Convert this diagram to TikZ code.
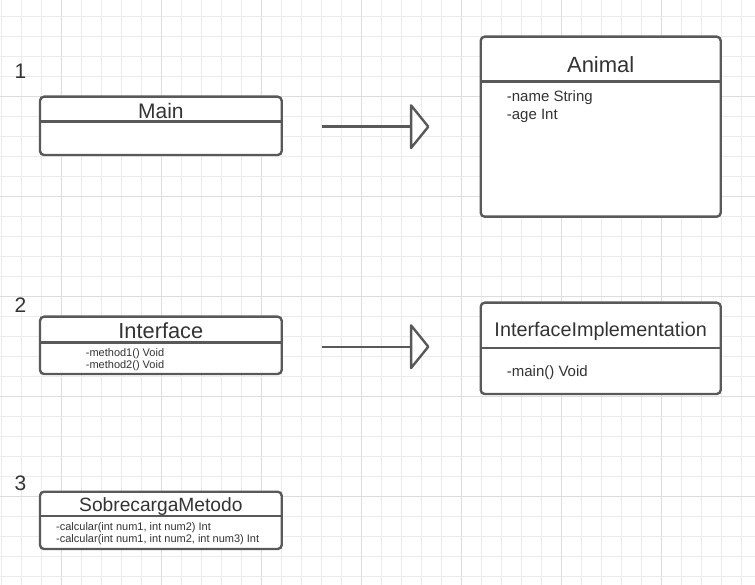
\documentclass[tikz,border=0pt]{standalone}
\usepackage{fontspec}
\setmainfont{Liberation Sans}
\usetikzlibrary{arrows.meta}

\definecolor{gridminor}{HTML}{EBEBEB}
\definecolor{gridmajor}{HTML}{DDDDDD}
\definecolor{umlline}{HTML}{595959}
\definecolor{umltext}{HTML}{333333}

\tikzstyle{classbox}=[draw=umlline, line width=2.4pt, fill=white, rounded corners=4pt, inner sep=0pt, outer sep=0pt]
\tikzstyle{divider}=[draw=umlline, line width=2.4pt]
\tikzstyle{cname}=[text=umltext, anchor=base, inner sep=0pt, font=\fontsize{21}{25}\selectfont]
\tikzstyle{member}=[text=umltext, anchor=base west, inner sep=0pt, font=\fontsize{15}{18}\selectfont]
\tikzstyle{smallmember}=[text=umltext, anchor=base west, inner sep=0pt, font=\fontsize{11}{13}\selectfont]
\tikzstyle{realize}=[draw=umlline, line width=2.4pt, -{Triangle[length=20pt, width=49pt, fill=white, round]}]

\begin{document}
\begin{tikzpicture}[x=1pt, y=-1pt]
    \useasboundingbox (0,0) rectangle (755,585);
    % background grid
    \foreach \k in {0,...,37} \draw[gridminor, line width=1pt] (1.7+20*\k,0) -- (1.7+20*\k,585);
    \foreach \k in {0,...,28} \draw[gridminor, line width=1pt] (0,16.5+20*\k) -- (755,16.5+20*\k);
    \foreach \k in {0,...,6} \draw[gridmajor, line width=1pt] (61.7+100*\k,0) -- (61.7+100*\k,585);
    \foreach \k in {0,...,4} \draw[gridmajor, line width=1pt] (0,96.5+100*\k) -- (755,96.5+100*\k);

    % numbers
    \node[cname, anchor=base west] (n1) at (14.5,79) {1};
    \node[cname, anchor=base west] (n2) at (14.5,312.7) {2};
    \node[cname, anchor=base west] (n3) at (14.5,490) {3};

    % 1
    \node[classbox, minimum width=241.7pt, minimum height=58.3pt] (main) at (160.85,125.85) {};
    \draw[divider] (main.west |- 0,121.7) -- (main.east |- 0,121.7);
    \node[cname] (mainname) at (160.85,118.3) {Main};

    \node[classbox, minimum width=240pt, minimum height=180pt] (animal) at (600.7,126.7) {};
    \draw[divider] (animal.west |- 0,81.7) -- (animal.east |- 0,81.7);
    \node[cname, font=\fontsize{22}{26}\selectfont] (animalname) at (600.7,72.3) {Animal};
    \node[member] (animalm1) at (506.7,101.7) {-name String};
    \node[member] (animalm2) at (506.7,120) {-age Int};

    \coordinate (a1s) at (321.7,126.7);
    \coordinate (a1e) at (429.5,126.7);
    \draw[realize] (a1s) -- (a1e);

    % 2
    \node[classbox, minimum width=241.7pt, minimum height=57.3pt] (iface) at (160.85,345.35) {};
    \draw[divider] (iface.west |- 0,342.3) -- (iface.east |- 0,342.3);
    \node[cname, font=\fontsize{21.8}{26}\selectfont] (ifacename) at (160.85,338.3) {Interface};
    \node[smallmember] (ifacem1) at (85.7,356) {-method1() Void};
    \node[smallmember] (ifacem2) at (85.7,368.3) {-method2() Void};

    \node[classbox, minimum width=240pt, minimum height=91.3pt] (impl) at (600.7,348.35) {};
    \draw[divider] (impl.west |- 0,347.7) -- (impl.east |- 0,347.7);
    \node[cname, font=\fontsize{19.8}{24}\selectfont] (implname) at (600.7,336.7) {InterfaceImplementation};
    \node[member] (implm1) at (506.7,376) {-main() Void};

    \coordinate (a2s) at (321.7,346.7);
    \coordinate (a2e) at (429.5,346.7);
    \draw[realize] (a2s) -- (a2e);

    % 3
    \node[classbox, minimum width=241.7pt, minimum height=57.3pt] (sobre) at (160.85,520.35) {};
    \draw[divider] (sobre.west |- 0,516) -- (sobre.east |- 0,516);
    \node[cname, font=\fontsize{19.2}{23}\selectfont] (sobrename) at (160.85,511.7) {SobrecargaMetodo};
    \node[smallmember] (sobrem1) at (56,530.7) {-calcular(int num1, int num2) Int};
    \node[smallmember] (sobrem2) at (56,542.7) {-calcular(int num1, int num2, int num3) Int};
\end{tikzpicture}
\end{document}
